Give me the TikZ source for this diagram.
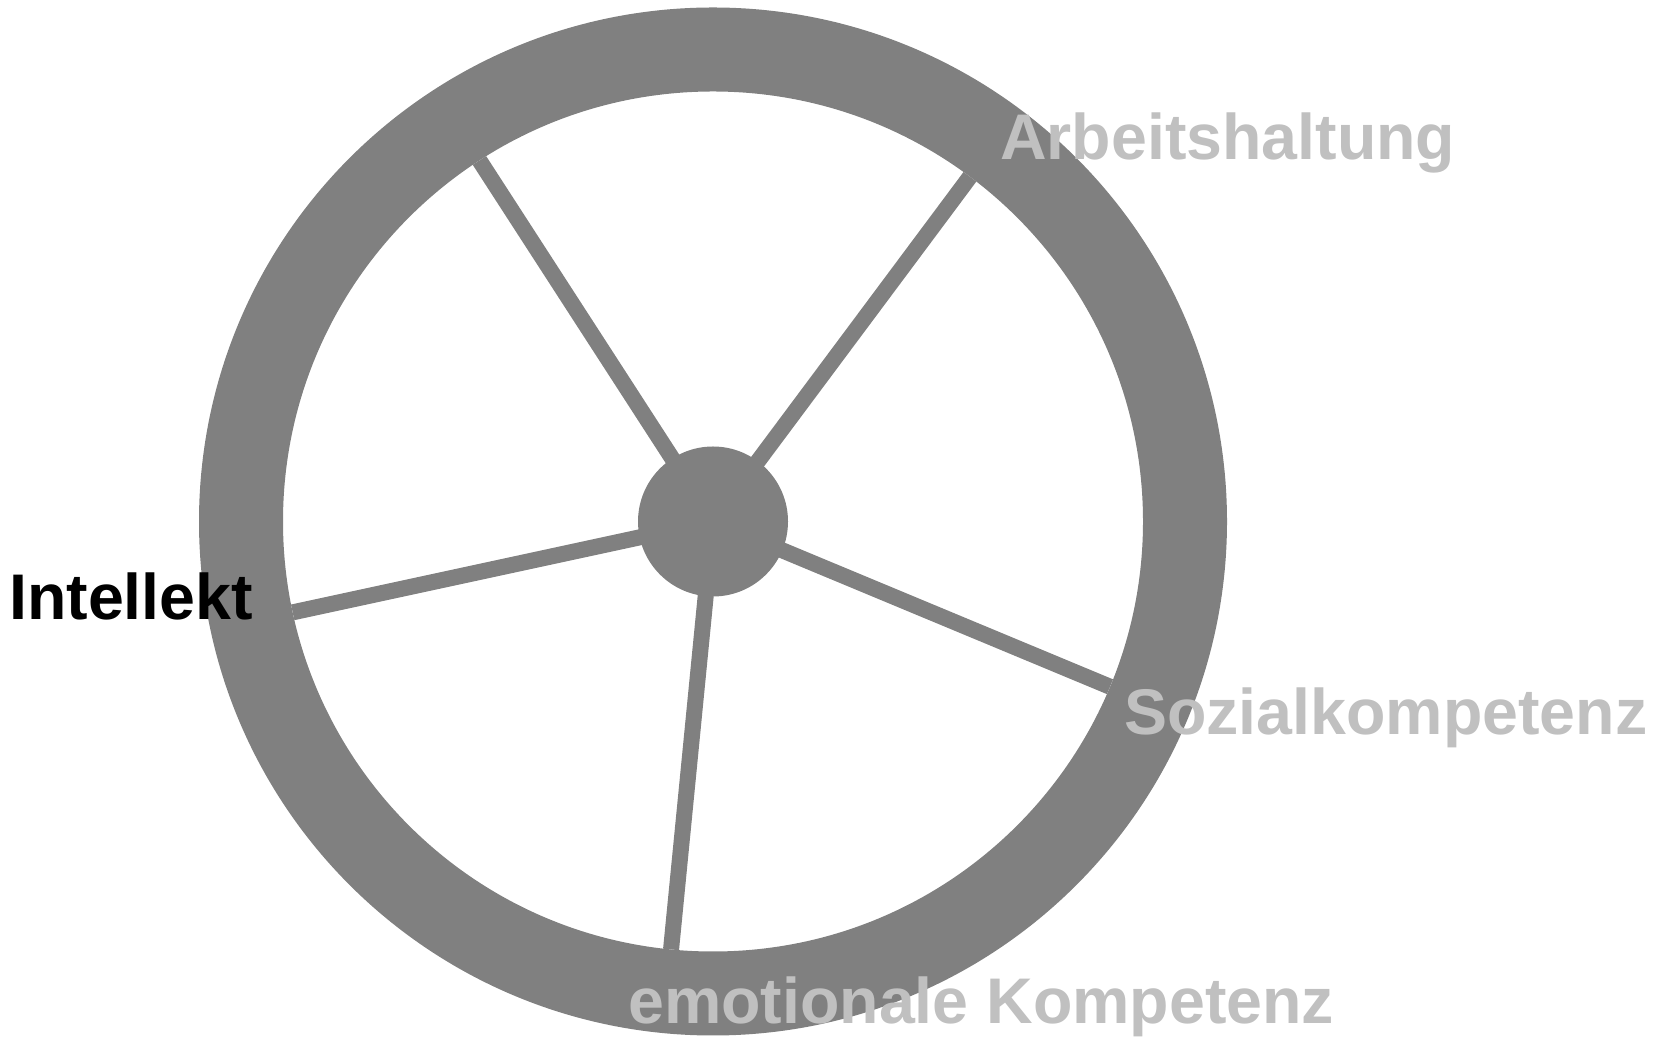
\documentclass[tikz,border=0pt]{standalone}
\usepackage{fontspec}
\setmainfont{Liberation Sans}
\definecolor{wheelgray}{HTML}{808080}
\definecolor{labelgray}{HTML}{C0C0C0}
\pgfdeclarelayer{background}
\pgfsetlayers{background,main}
\begin{document}
\begin{tikzpicture}[x=1pt,y=1pt,
  spoke/.style={draw=wheelgray, line width=16pt},
  lbl/.style={anchor=base west, inner sep=0pt, font=\fontsize{64.5}{64.5}\selectfont\bfseries, text=labelgray}]
\useasboundingbox (0,0) rectangle (1670,1038);
\coordinate (c) at (713,516.5);
% hub
\node[circle, fill=wheelgray, minimum size=150pt, inner sep=0pt] (hub) at (c) {};
% rim points
\path (c) ++(122.9:430) coordinate (r1);
\path (c) ++(53.3:430) coordinate (r2);
\path (c) ++(192.2:430) coordinate (r3);
\path (c) ++(337.4:430) coordinate (r4);
\path (c) ++(264.4:430) coordinate (r5);
\begin{pgfonlayer}{background}
  \node[circle, draw=wheelgray, line width=84pt, minimum size=944pt, inner sep=0pt] (ring) at (c) {};
  \draw[spoke] (hub.center) -- (r1);
  \draw[spoke] (hub.center) -- (r2);
  \draw[spoke] (hub.center) -- (r3);
  \draw[spoke] (hub.center) -- (r4);
  \draw[spoke] (hub.center) -- (r5);
\end{pgfonlayer}
% labels
\node[lbl] (arb) at (1000,878) {Arbeitshaltung};
\node[lbl] (soz) at (1124,303) {Sozialkompetenz};
\node[lbl] (emo) at (628,14) {emotionale Kompetenz};
\node[lbl, text=black] (int) at (9,418) {Intellekt};
\end{tikzpicture}
\end{document}
